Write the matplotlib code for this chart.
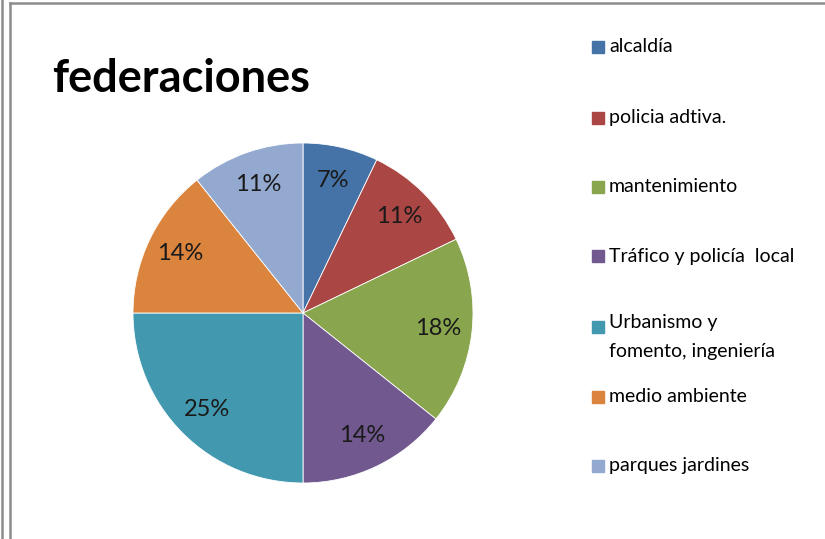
import matplotlib.pyplot as plt
from matplotlib.lines import Line2D
from matplotlib.patches import Rectangle

# ---- data ----
categories = ['alcaldía', 'policia adtiva.', 'mantenimiento', 'Tráfico y policía  local',
              'Urbanismo y\nfomento, ingeniería', 'medio ambiente', 'parques jardines']
counts = [2, 3, 5, 4, 7, 4, 3]
colors = ['#4572A7', '#AA4643', '#89A54E', '#71588F', '#4198AF', '#DB843D', '#93A9CF']

plt.rcParams['font.family'] = ['Lato', 'DejaVu Sans']

W, H = 825, 539
fig = plt.figure(figsize=(W / 100, H / 100), dpi=100)

# pie centred at (303, 313) px, radius 170 px
cx, cy, r = 303, 313, 170
ax = fig.add_axes([(cx - r) / W, (H - cy - r) / H, 2 * r / W, 2 * r / H])
wedges, texts, autotexts = ax.pie(
    counts, colors=colors, startangle=90, counterclock=False,
    autopct=lambda p: f'{p:.0f}%', pctdistance=0.8,
    wedgeprops=dict(linewidth=0.6, edgecolor='white'),
    textprops=dict(fontsize=17, color='#1a1a1a'))
ax.set_xlim(-1, 1)
ax.set_ylim(-1, 1)

# title
fig.text(52 / W, 1 - 92 / H, 'federaciones', fontsize=32.5, fontweight='bold',
         va='baseline', ha='left')

# legend (manual, Excel-like spacing)
legend_y = [47, 118, 187, 256, 327, 397, 466]
for lab, col, y in zip(categories, colors, legend_y):
    fig.add_artist(Rectangle((592 / W, 1 - (y + 6) / H), 12 / W, 12 / H,
                             transform=fig.transFigure, color=col))
    if '\n' in lab:
        fig.text(609 / W, 1 - (y - 13) / H, lab, fontsize=14, va='top', ha='left',
                 linespacing=1.85)
    else:
        fig.text(609 / W, 1 - y / H, lab, fontsize=14, va='center', ha='left')

# frame lines
g = '#8c8c8c'
fig.add_artist(Line2D([1.5 / W, 1.5 / W], [0, 1], color=g, lw=1.8))
fig.add_artist(Line2D([10 / W, 10 / W], [0, 1 - 2.5 / H], color=g, lw=1.8))
fig.add_artist(Line2D([10 / W, 1], [1 - 2.5 / H, 1 - 2.5 / H], color=g, lw=1.8))

fig.savefig('out.png', dpi=100)
